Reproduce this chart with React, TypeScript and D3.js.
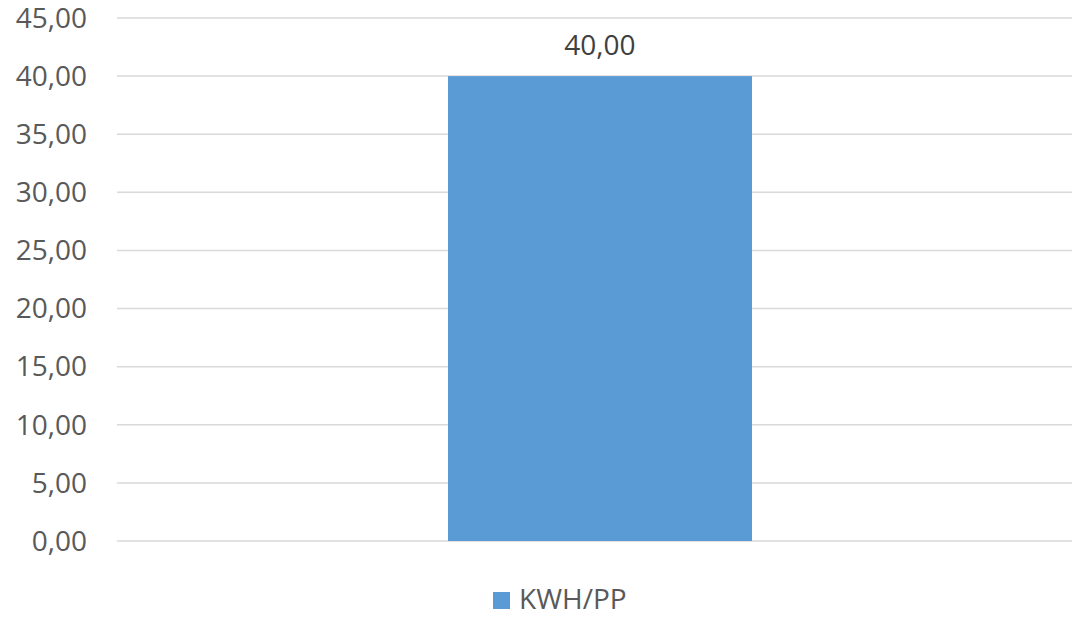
import React from 'react';
import {scaleBand, scaleLinear, range} from 'd3';

const categories = ['KWH/PP'];
const values = [40];
const yTicks = range(0, 46, 5);
const seriesName = 'KWH/PP';

const W = 1072;
const H = 617;
const fmt = (v: number) => v.toFixed(2).replace('.', ',');

const App = (): JSX.Element => {
    const x = scaleBand<string>().domain(categories).range([117, 1083]).padding(0.5213);
    const y = scaleLinear().domain([0, 45]).range([541, 18]);
    const font = '"Open Sans", sans-serif';

    return (
        <svg
            width={W}
            height={H}
            viewBox={`0 0 ${W} ${H}`}
            style={{position: 'absolute', left: 0, top: 0, background: '#fff'}}
            fontFamily={font}
        >
            {yTicks.map((t) => (
                <g key={t}>
                    <line x1={117} x2={W} y1={y(t)} y2={y(t)} stroke="#d9d9d9" strokeWidth={1.5} />
                    <text x={87} y={y(t)} dy="0.35em" textAnchor="end" fontSize={28} fill="#595959">
                        {fmt(t)}
                    </text>
                </g>
            ))}
            {categories.map((c, i) => (
                <g key={c}>
                    <rect x={x(c)} y={y(values[i])} width={x.bandwidth()} height={y(0) - y(values[i])} fill="#5b9bd5" />
                    <text
                        x={(x(c) ?? 0) + x.bandwidth() / 2}
                        y={y(values[i]) - 21}
                        textAnchor="middle"
                        fontSize={28}
                        fill="#404040"
                    >
                        {fmt(values[i])}
                    </text>
                </g>
            ))}
            <rect x={493} y={592} width={17} height={17} fill="#5b9bd5" />
            <text x={519} y={609} fontSize={28} fill="#595959">{seriesName}</text>
        </svg>
    );
};

export default App;
